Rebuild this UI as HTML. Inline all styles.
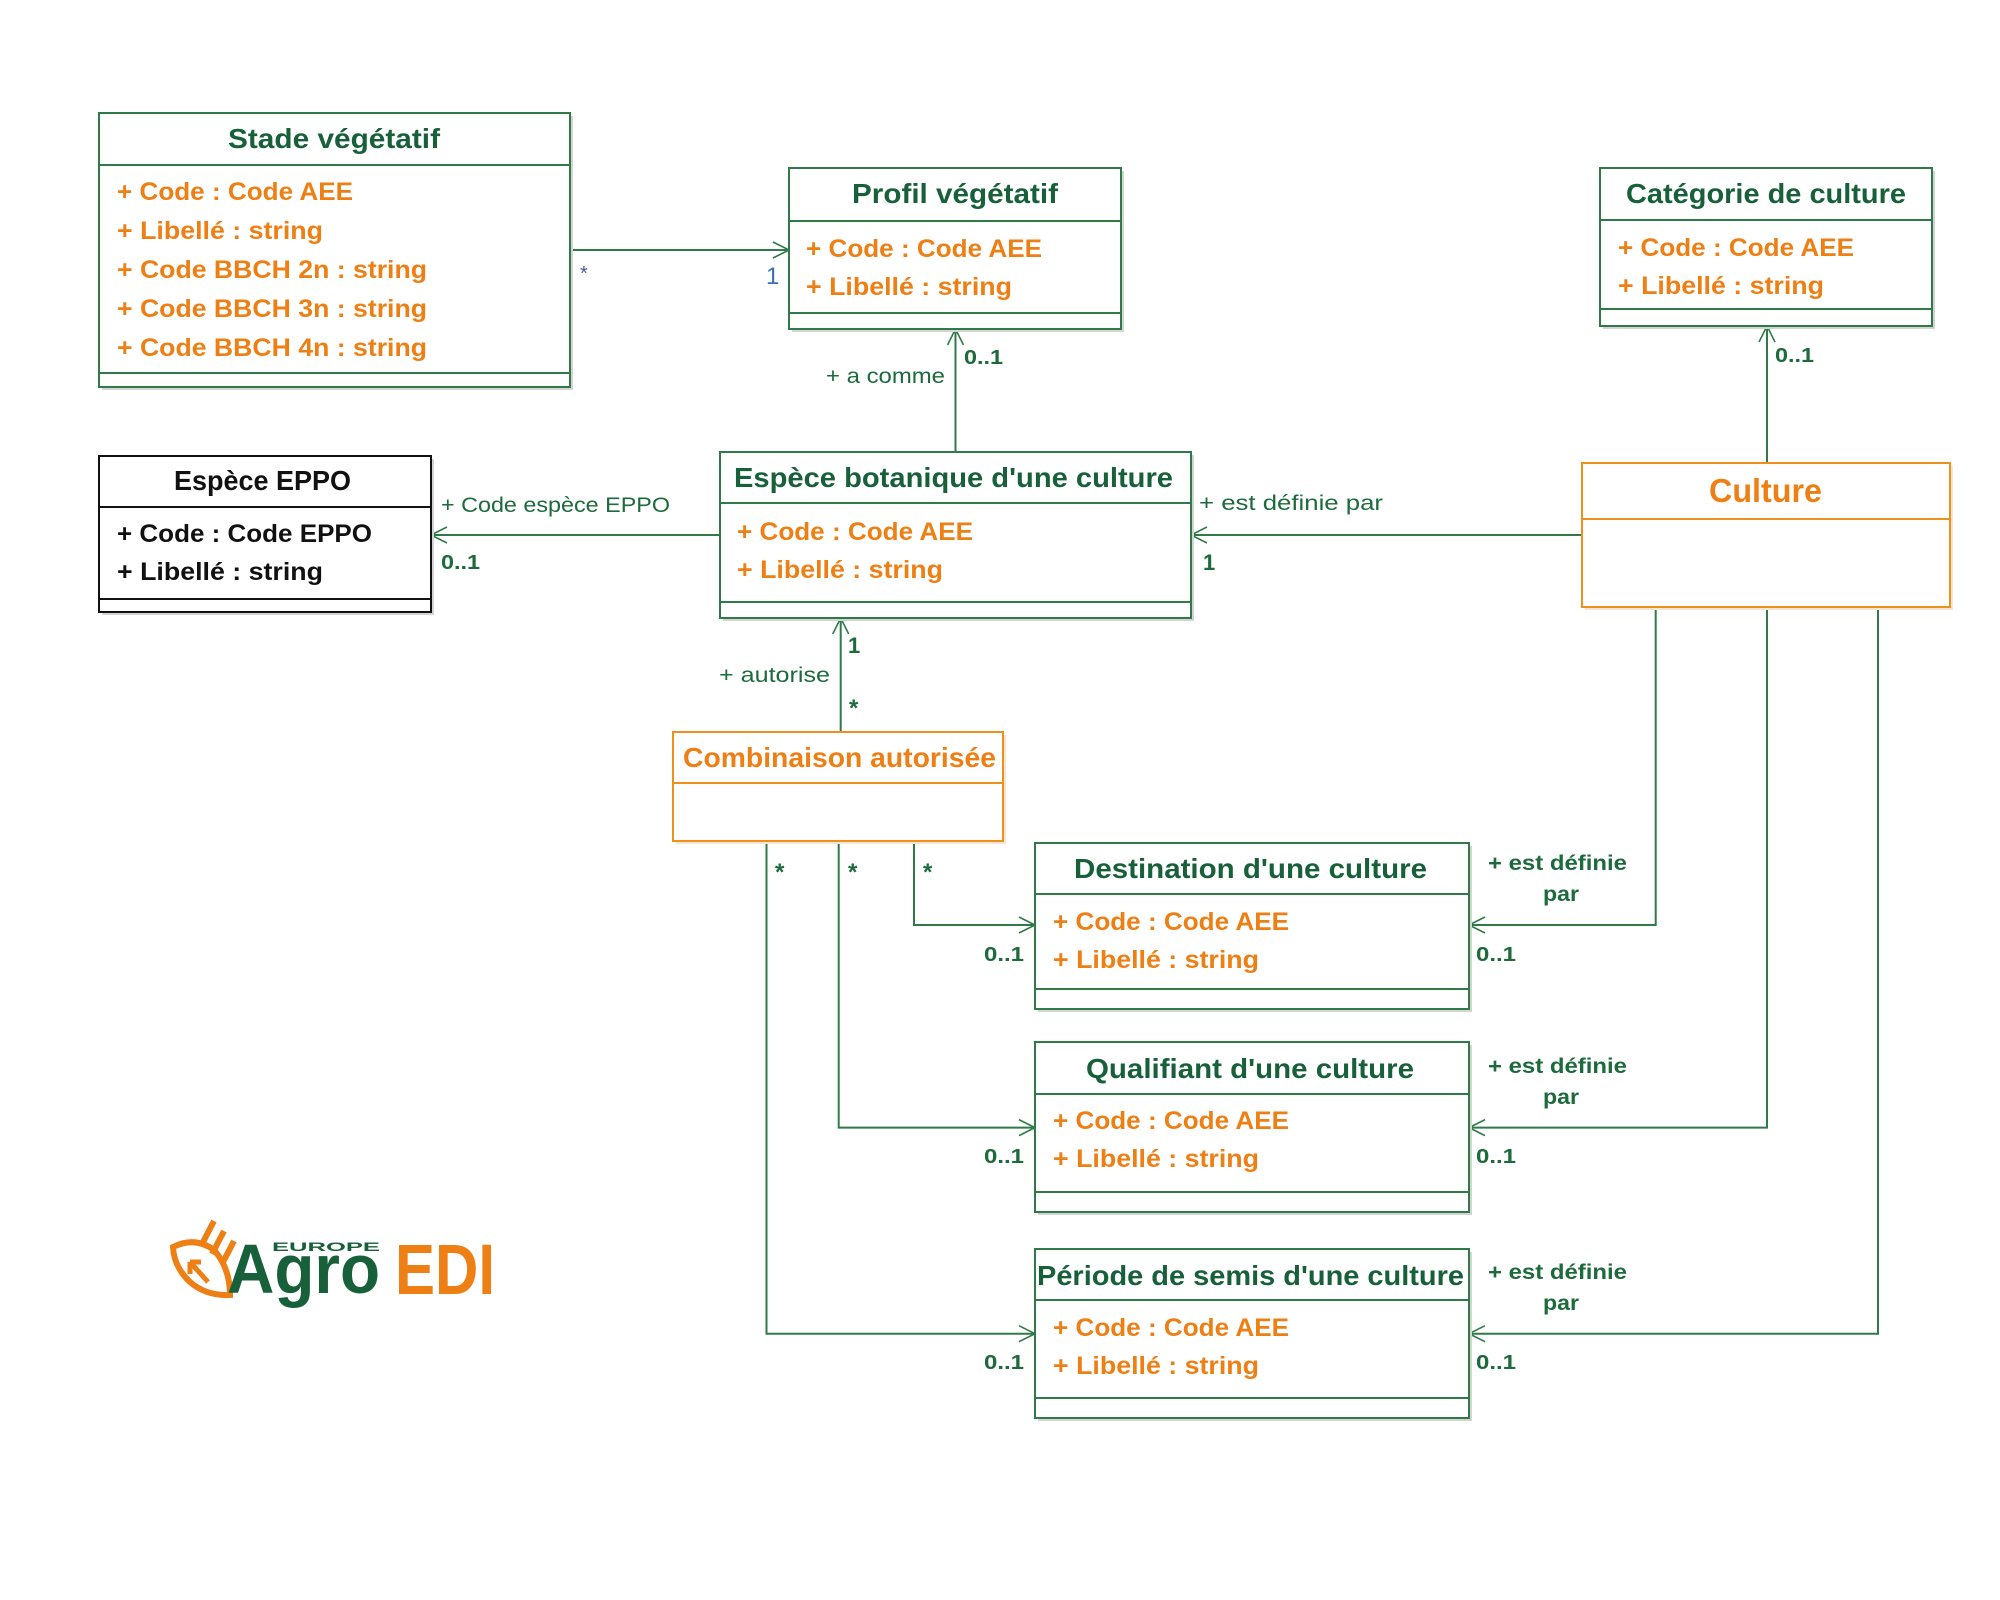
<!DOCTYPE html>
<html><head><meta charset="utf-8"><style>
html,body{margin:0;padding:0;background:#fff;}
svg{display:block;}
text{font-family:"Liberation Sans",sans-serif;}
.t{font-size:28px;font-weight:bold;fill:#17603a;}
.a{font-size:25px;font-weight:bold;fill:#ee7f14;}
.b{font-size:25px;font-weight:bold;fill:#111;}
.l{font-size:21px;fill:#1d6a3c;}
.m{font-size:20px;font-weight:bold;fill:#1d6a3c;}
.lb{font-size:21px;font-weight:bold;fill:#1d6a3c;}
.box{fill:#fff;stroke:#2f7a47;stroke-width:2;}
.obox{fill:#fff;stroke:#f0901c;stroke-width:2;}
.sh{fill:#d4d4d4;}
.ln{stroke:#2f7a47;stroke-width:2;fill:none;}
.ol{stroke:#f0901c;stroke-width:2;}
.ar{stroke:#2f7a47;stroke-width:1.6;fill:none;}
</style></head><body>
<svg width="2000" height="1600" viewBox="0 0 2000 1600" xmlns="http://www.w3.org/2000/svg">
<rect width="2000" height="1600" fill="#fff"/>

<!-- connectors -->
<path class="ln" d="M570,250 H789"/>
<path class="ar" d="M773,242 L789,250 L773,258"/>
<path class="ln" d="M955.5,452 V329"/>
<path class="ar" d="M947.5,345 L955.5,329 L963.5,345"/>
<path class="ln" d="M720,535 H431"/>
<path class="ar" d="M447,527 L431,535 L447,543"/>
<path class="ln" d="M1582,535 H1191"/>
<path class="ar" d="M1207,527 L1191,535 L1207,543"/>
<path class="ln" d="M1767,463 V326"/>
<path class="ar" d="M1759,342 L1767,326 L1775,342"/>
<path class="ln" d="M840.7,732 V618"/>
<path class="ar" d="M832.7,634 L840.7,618 L848.7,634"/>

<path class="ln" d="M914,841 V925 H1035"/>
<path class="ar" d="M1019,917 L1035,925 L1019,933"/>
<path class="ln" d="M838.7,841 V1127.6 H1035"/>
<path class="ar" d="M1019,1119.6 L1035,1127.6 L1019,1135.6"/>
<path class="ln" d="M766.5,841 V1333.7 H1035"/>
<path class="ar" d="M1019,1325.7 L1035,1333.7 L1019,1341.7"/>

<path class="ln" d="M1655.7,607 V925 H1469"/>
<path class="ar" d="M1485,917 L1469,925 L1485,933"/>
<path class="ln" d="M1767,607 V1127.6 H1469"/>
<path class="ar" d="M1485,1119.6 L1469,1127.6 L1485,1135.6"/>
<path class="ln" d="M1878,607 V1333.7 H1469"/>
<path class="ar" d="M1485,1325.7 L1469,1333.7 L1485,1341.7"/>

<!-- Stade végétatif -->
<rect class="sh" x="102" y="116" width="471" height="274"/>
<rect class="box" x="99" y="113" width="471" height="274"/>
<line class="ln" x1="99" y1="165" x2="570" y2="165"/>
<line class="ln" x1="99" y1="373" x2="570" y2="373"/>
<text class="t" x="228" y="148" textLength="212" lengthAdjust="spacingAndGlyphs">Stade végétatif</text>
<text class="a" x="117" y="200" textLength="236" lengthAdjust="spacingAndGlyphs">+ Code : Code AEE</text>
<text class="a" x="117" y="239" textLength="206" lengthAdjust="spacingAndGlyphs">+ Libellé : string</text>
<text class="a" x="117" y="278" textLength="310" lengthAdjust="spacingAndGlyphs">+ Code BBCH 2n : string</text>
<text class="a" x="117" y="317" textLength="310" lengthAdjust="spacingAndGlyphs">+ Code BBCH 3n : string</text>
<text class="a" x="117" y="356" textLength="310" lengthAdjust="spacingAndGlyphs">+ Code BBCH 4n : string</text>

<!-- Profil végétatif -->
<rect class="sh" x="792" y="171" width="332" height="161"/>
<rect class="box" x="789" y="168" width="332" height="161"/>
<line class="ln" x1="789" y1="221" x2="1121" y2="221"/>
<line class="ln" x1="789" y1="313" x2="1121" y2="313"/>
<text class="t" x="852" y="203" textLength="206" lengthAdjust="spacingAndGlyphs">Profil végétatif</text>
<text class="a" x="806" y="257" textLength="236" lengthAdjust="spacingAndGlyphs">+ Code : Code AEE</text>
<text class="a" x="806" y="295" textLength="206" lengthAdjust="spacingAndGlyphs">+ Libellé : string</text>

<!-- Catégorie de culture -->
<rect class="sh" x="1603" y="171" width="332" height="158"/>
<rect class="box" x="1600" y="168" width="332" height="158"/>
<line class="ln" x1="1600" y1="220" x2="1932" y2="220"/>
<line class="ln" x1="1600" y1="309" x2="1932" y2="309"/>
<text class="t" x="1626" y="203" textLength="280" lengthAdjust="spacingAndGlyphs">Catégorie de culture</text>
<text class="a" x="1618" y="256" textLength="236" lengthAdjust="spacingAndGlyphs">+ Code : Code AEE</text>
<text class="a" x="1618" y="294" textLength="206" lengthAdjust="spacingAndGlyphs">+ Libellé : string</text>

<!-- Espèce EPPO -->
<rect class="sh" x="102" y="459" width="332" height="156"/>
<rect x="99" y="456" width="332" height="156" fill="#fff" stroke="#111" stroke-width="2"/>
<line x1="99" y1="507" x2="431" y2="507" stroke="#111" stroke-width="2"/>
<line x1="99" y1="599" x2="431" y2="599" stroke="#111" stroke-width="2"/>
<text x="174" y="490" textLength="177" lengthAdjust="spacingAndGlyphs" style="font-size:28px;font-weight:bold;fill:#111">Espèce EPPO</text>
<text class="b" x="117" y="542" textLength="255" lengthAdjust="spacingAndGlyphs">+ Code : Code EPPO</text>
<text class="b" x="117" y="580" textLength="206" lengthAdjust="spacingAndGlyphs">+ Libellé : string</text>

<!-- Espèce botanique -->
<rect class="sh" x="723" y="455" width="471" height="166"/>
<rect class="box" x="720" y="452" width="471" height="166"/>
<line class="ln" x1="720" y1="503" x2="1191" y2="503"/>
<line class="ln" x1="720" y1="602" x2="1191" y2="602"/>
<text class="t" x="734" y="487" textLength="439" lengthAdjust="spacingAndGlyphs">Espèce botanique d'une culture</text>
<text class="a" x="737" y="540" textLength="236" lengthAdjust="spacingAndGlyphs">+ Code : Code AEE</text>
<text class="a" x="737" y="578" textLength="206" lengthAdjust="spacingAndGlyphs">+ Libellé : string</text>

<!-- Culture -->
<rect x="1585" y="466" width="368" height="144" fill="#f3e6d6"/>
<rect class="obox" x="1582" y="463" width="368" height="144"/>
<line class="ol" x1="1582" y1="519" x2="1950" y2="519"/>
<text x="1709" y="502" textLength="113" lengthAdjust="spacingAndGlyphs" style="font-size:33px;font-weight:bold;fill:#ee7f14">Culture</text>

<!-- Combinaison autorisée -->
<rect x="676" y="735" width="330" height="109" fill="#f3e6d6"/>
<rect class="obox" x="673" y="732" width="330" height="109"/>
<line class="ol" x1="673" y1="783" x2="1003" y2="783"/>
<text x="683" y="767" textLength="313" lengthAdjust="spacingAndGlyphs" style="font-size:28px;font-weight:bold;fill:#ee7f14">Combinaison autorisée</text>

<!-- Destination -->
<rect class="sh" x="1038" y="846" width="434" height="166"/>
<rect class="box" x="1035" y="843" width="434" height="166"/>
<line class="ln" x1="1035" y1="894" x2="1469" y2="894"/>
<line class="ln" x1="1035" y1="989" x2="1469" y2="989"/>
<text class="t" x="1074" y="878" textLength="353" lengthAdjust="spacingAndGlyphs">Destination d'une culture</text>
<text class="a" x="1053" y="930" textLength="236" lengthAdjust="spacingAndGlyphs">+ Code : Code AEE</text>
<text class="a" x="1053" y="968" textLength="206" lengthAdjust="spacingAndGlyphs">+ Libellé : string</text>

<!-- Qualifiant -->
<rect class="sh" x="1038" y="1045" width="434" height="170"/>
<rect class="box" x="1035" y="1042" width="434" height="170"/>
<line class="ln" x1="1035" y1="1094" x2="1469" y2="1094"/>
<line class="ln" x1="1035" y1="1192" x2="1469" y2="1192"/>
<text class="t" x="1086" y="1078" textLength="328" lengthAdjust="spacingAndGlyphs">Qualifiant d'une culture</text>
<text class="a" x="1053" y="1129" textLength="236" lengthAdjust="spacingAndGlyphs">+ Code : Code AEE</text>
<text class="a" x="1053" y="1167" textLength="206" lengthAdjust="spacingAndGlyphs">+ Libellé : string</text>

<!-- Période -->
<rect class="sh" x="1038" y="1252" width="434" height="169"/>
<rect class="box" x="1035" y="1249" width="434" height="169"/>
<line class="ln" x1="1035" y1="1300" x2="1469" y2="1300"/>
<line class="ln" x1="1035" y1="1398" x2="1469" y2="1398"/>
<text class="t" x="1037" y="1285" textLength="427" lengthAdjust="spacingAndGlyphs">Période de semis d'une culture</text>
<text class="a" x="1053" y="1336" textLength="236" lengthAdjust="spacingAndGlyphs">+ Code : Code AEE</text>
<text class="a" x="1053" y="1374" textLength="206" lengthAdjust="spacingAndGlyphs">+ Libellé : string</text>

<!-- labels -->
<text x="580" y="280" style="font-size:20px;fill:#4a5a9a">*</text>
<text x="766" y="284" style="font-size:24px;fill:#3b6fc0">1</text>
<text class="m" x="964" y="364" textLength="39" lengthAdjust="spacingAndGlyphs">0..1</text>
<text class="l" x="826" y="383" textLength="119" lengthAdjust="spacingAndGlyphs">+ a comme</text>
<text class="l" x="441" y="512" textLength="229" lengthAdjust="spacingAndGlyphs">+ Code espèce EPPO</text>
<text class="m" x="441" y="569" textLength="39" lengthAdjust="spacingAndGlyphs">0..1</text>
<text class="l" x="1199" y="510" textLength="184" lengthAdjust="spacingAndGlyphs">+ est définie par</text>
<text class="m" x="1203" y="570" style="font-size:22px">1</text>
<text class="m" x="1775" y="362" textLength="39" lengthAdjust="spacingAndGlyphs">0..1</text>
<text class="m" x="848" y="653" style="font-size:22px">1</text>
<text class="l" x="719" y="682" textLength="111" lengthAdjust="spacingAndGlyphs">+ autorise</text>
<text class="m" x="849" y="716" style="font-size:24px">*</text>
<text class="m" x="775" y="880" style="font-size:24px">*</text>
<text class="m" x="848" y="880" style="font-size:24px">*</text>
<text class="m" x="923" y="880" style="font-size:24px">*</text>
<text class="m" x="984" y="961" textLength="40" lengthAdjust="spacingAndGlyphs">0..1</text>
<text class="m" x="984" y="1163" textLength="40" lengthAdjust="spacingAndGlyphs">0..1</text>
<text class="m" x="984" y="1369" textLength="40" lengthAdjust="spacingAndGlyphs">0..1</text>
<text class="m" x="1476" y="961" textLength="40" lengthAdjust="spacingAndGlyphs">0..1</text>
<text class="m" x="1476" y="1163" textLength="40" lengthAdjust="spacingAndGlyphs">0..1</text>
<text class="m" x="1476" y="1369" textLength="40" lengthAdjust="spacingAndGlyphs">0..1</text>
<text class="lb" x="1488" y="870" textLength="139" lengthAdjust="spacingAndGlyphs">+ est définie</text>
<text class="lb" x="1543" y="901" textLength="36" lengthAdjust="spacingAndGlyphs">par</text>
<text class="lb" x="1488" y="1073" textLength="139" lengthAdjust="spacingAndGlyphs">+ est définie</text>
<text class="lb" x="1543" y="1104" textLength="36" lengthAdjust="spacingAndGlyphs">par</text>
<text class="lb" x="1488" y="1279" textLength="139" lengthAdjust="spacingAndGlyphs">+ est définie</text>
<text class="lb" x="1543" y="1310" textLength="36" lengthAdjust="spacingAndGlyphs">par</text>

<!-- logo -->
<g>
<path d="M173,1247 Q195,1236 214,1250 Q230,1268 230,1295 Q206,1296 190,1282 Q174,1267 173,1247 Z" fill="none" stroke="#ee7f14" stroke-width="6"/>
<path d="M190,1262 L208,1282 M190,1262 L190,1274 M190,1262 L201,1262" fill="none" stroke="#ee7f14" stroke-width="5"/>
<line x1="214" y1="1221" x2="202" y2="1244" stroke="#ee7f14" stroke-width="6"/>
<line x1="224" y1="1231" x2="212" y2="1254" stroke="#ee7f14" stroke-width="6"/>
<line x1="234" y1="1241" x2="222" y2="1264" stroke="#ee7f14" stroke-width="6"/>
<text x="272" y="1251" textLength="108" lengthAdjust="spacingAndGlyphs" style="font-size:12px;font-weight:bold;fill:#17603a">EUROPE</text>
<text x="227" y="1293" textLength="153" lengthAdjust="spacingAndGlyphs" style="font-size:70px;font-weight:bold;fill:#17603a">Agro</text>
<text x="395" y="1294" textLength="100" lengthAdjust="spacingAndGlyphs" style="font-size:71px;font-weight:bold;fill:#ee7f14">EDI</text>
</g>
</svg>
</body></html>
